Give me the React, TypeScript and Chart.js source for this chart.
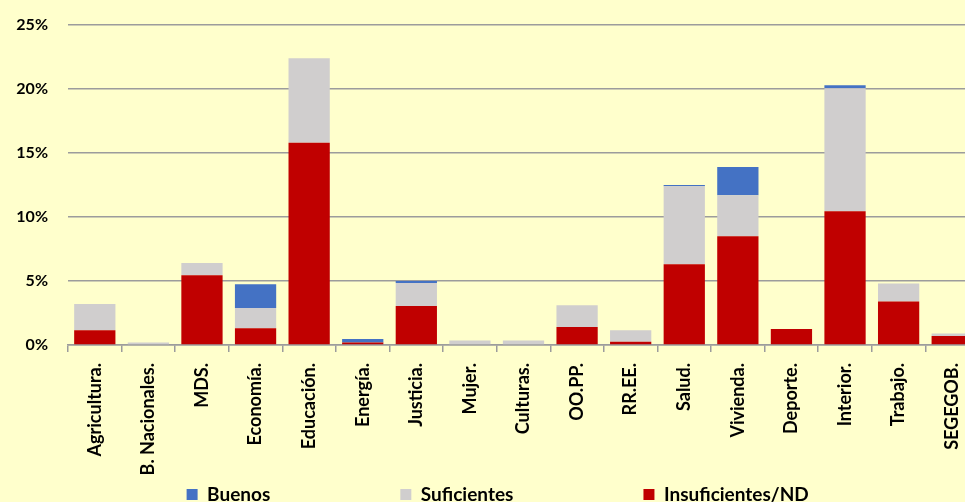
import React, { useEffect, useRef } from 'react';
import { Chart, registerables } from 'chart.js';

Chart.register(...registerables);

const categories = ['Agricultura.', 'B. Nacionales.', 'MDS.', 'Economía.', 'Educación.', 'Energía.', 'Justicia.', 'Mujer.', 'Culturas.', 'OO.PP.', 'RR.EE.', 'Salud.', 'Vivienda.', 'Deporte.', 'Interior.', 'Trabajo.', 'SEGEGOB.'];
const insuficientes = [1.15, 0, 5.45, 1.3, 15.8, 0.2, 3.05, 0, 0, 1.4, 0.25, 6.3, 8.5, 1.25, 10.45, 3.4, 0.7];
const suficientes = [2.05, 0.2, 0.95, 1.6, 6.6, 0, 1.8, 0.35, 0.35, 1.7, 0.9, 6.1, 3.2, 0, 9.6, 1.4, 0.2];
const buenos = [0, 0, 0, 1.85, 0, 0.27, 0.15, 0, 0, 0, 0, 0.1, 2.2, 0, 0.25, 0, 0];
const yTicks = [0, 5, 10, 15, 20, 25];

const BG = '#FFFFCC';
const RED = '#C00000';
const GRAY = '#D0CECE';
const BLUE = '#4472C4';

const LEGEND_SIZE = 19;
const LEGEND_FONT = 'bold ' + LEGEND_SIZE + 'px Lato';
const BOX = 11;
const PAD = 10;
const legendSteps: Record<string, number> = { Buenos: 215, Suficientes: 245 };
const lastExtra = 8;

export default function App() {
  const ref = useRef<HTMLCanvasElement>(null);
  useEffect(() => {
    if (!ref.current) return;
    const chart = new Chart(ref.current, {
      type: 'bar',
      data: {
        labels: categories,
        datasets: [
          { label: 'Insuficientes/ND', data: insuficientes, backgroundColor: RED },
          { label: 'Suficientes', data: suficientes, backgroundColor: GRAY },
          { label: 'Buenos', data: buenos, backgroundColor: BLUE },
        ],
      },
      options: {
        responsive: false,
        animation: false,
        layout: { padding: { top: 25, left: 0, right: 0, bottom: 0 } },
        datasets: { bar: { categoryPercentage: 1, barPercentage: 0.77 } },
        plugins: {
          tooltip: { enabled: false },
          title: { display: false },
          legend: {
            position: 'bottom',
            reverse: true,
            labels: {
              boxWidth: BOX,
              boxHeight: BOX,
              padding: PAD,
              color: '#000',
              font: { family: 'Lato', size: LEGEND_SIZE, weight: 'bold' },
              generateLabels: (c: any) => {
                const items = (Chart.defaults.plugins.legend.labels as any).generateLabels(c);
                const ctx = c.ctx as CanvasRenderingContext2D;
                ctx.save();
                ctx.font = LEGEND_FONT;
                items.forEach((it: any) => {
                  let target = -1;
                  if (legendSteps[it.text] !== undefined) {
                    target = legendSteps[it.text] - PAD - BOX - LEGEND_SIZE / 2;
                  } else {
                    target = ctx.measureText(it.text).width + lastExtra;
                  }
                  let t = it.text;
                  while (ctx.measureText(t + ' ').width <= target) t += ' ';
                  it.text = t;
                  it.lineWidth = 0;
                  it.strokeStyle = 'transparent';
                });
                ctx.restore();
                return items;
              },
            },
          },
        },
        scales: {
          x: {
            stacked: true,
            offset: true,
            grid: { display: true, drawOnChartArea: false, drawTicks: true, tickLength: 7, color: '#9C9C9C', lineWidth: 1.5, offset: true },
            border: { display: true, color: '#9C9C9C', width: 1.5 },
            ticks: {
              autoSkip: false,
              minRotation: 90,
              maxRotation: 90,
              padding: 11,
              color: '#000',
              font: { family: 'Lato', size: 18, weight: 'bold' },
            },
            afterFit: (s: any) => { s.height = 130; },
          },
          y: {
            stacked: true,
            min: 0,
            max: 25,
            afterBuildTicks: (s: any) => { s.ticks = yTicks.map((v) => ({ value: v })); },
            grid: { color: '#9C9C9C', lineWidth: 1.5, drawTicks: false },
            border: { display: false },
            ticks: {
              padding: 20,
              color: '#000',
              font: { family: 'Lato', size: 16, weight: 'bold' },
              callback: (v: any) => v + '%',
            },
            afterFit: (s: any) => { s.width = 68; s.paddingTop = 0; s.paddingBottom = 0; },
          },
          y2: {
            position: 'right',
            display: true,
            grid: { display: false },
            border: { display: false },
            ticks: { display: false },
            afterFit: (s: any) => { s.width = 21; s.paddingTop = 0; s.paddingBottom = 0; },
          },
        },
      },
    });
    return () => chart.destroy();
  }, []);
  return (
    <div style={{ position: 'fixed', left: 0, top: 0, width: 965, height: 502, overflow: 'hidden', background: BG }}>
      <canvas ref={ref} width={1000} height={514} style={{ display: 'block', width: 1000, height: 514 }} />
    </div>
  );
}
